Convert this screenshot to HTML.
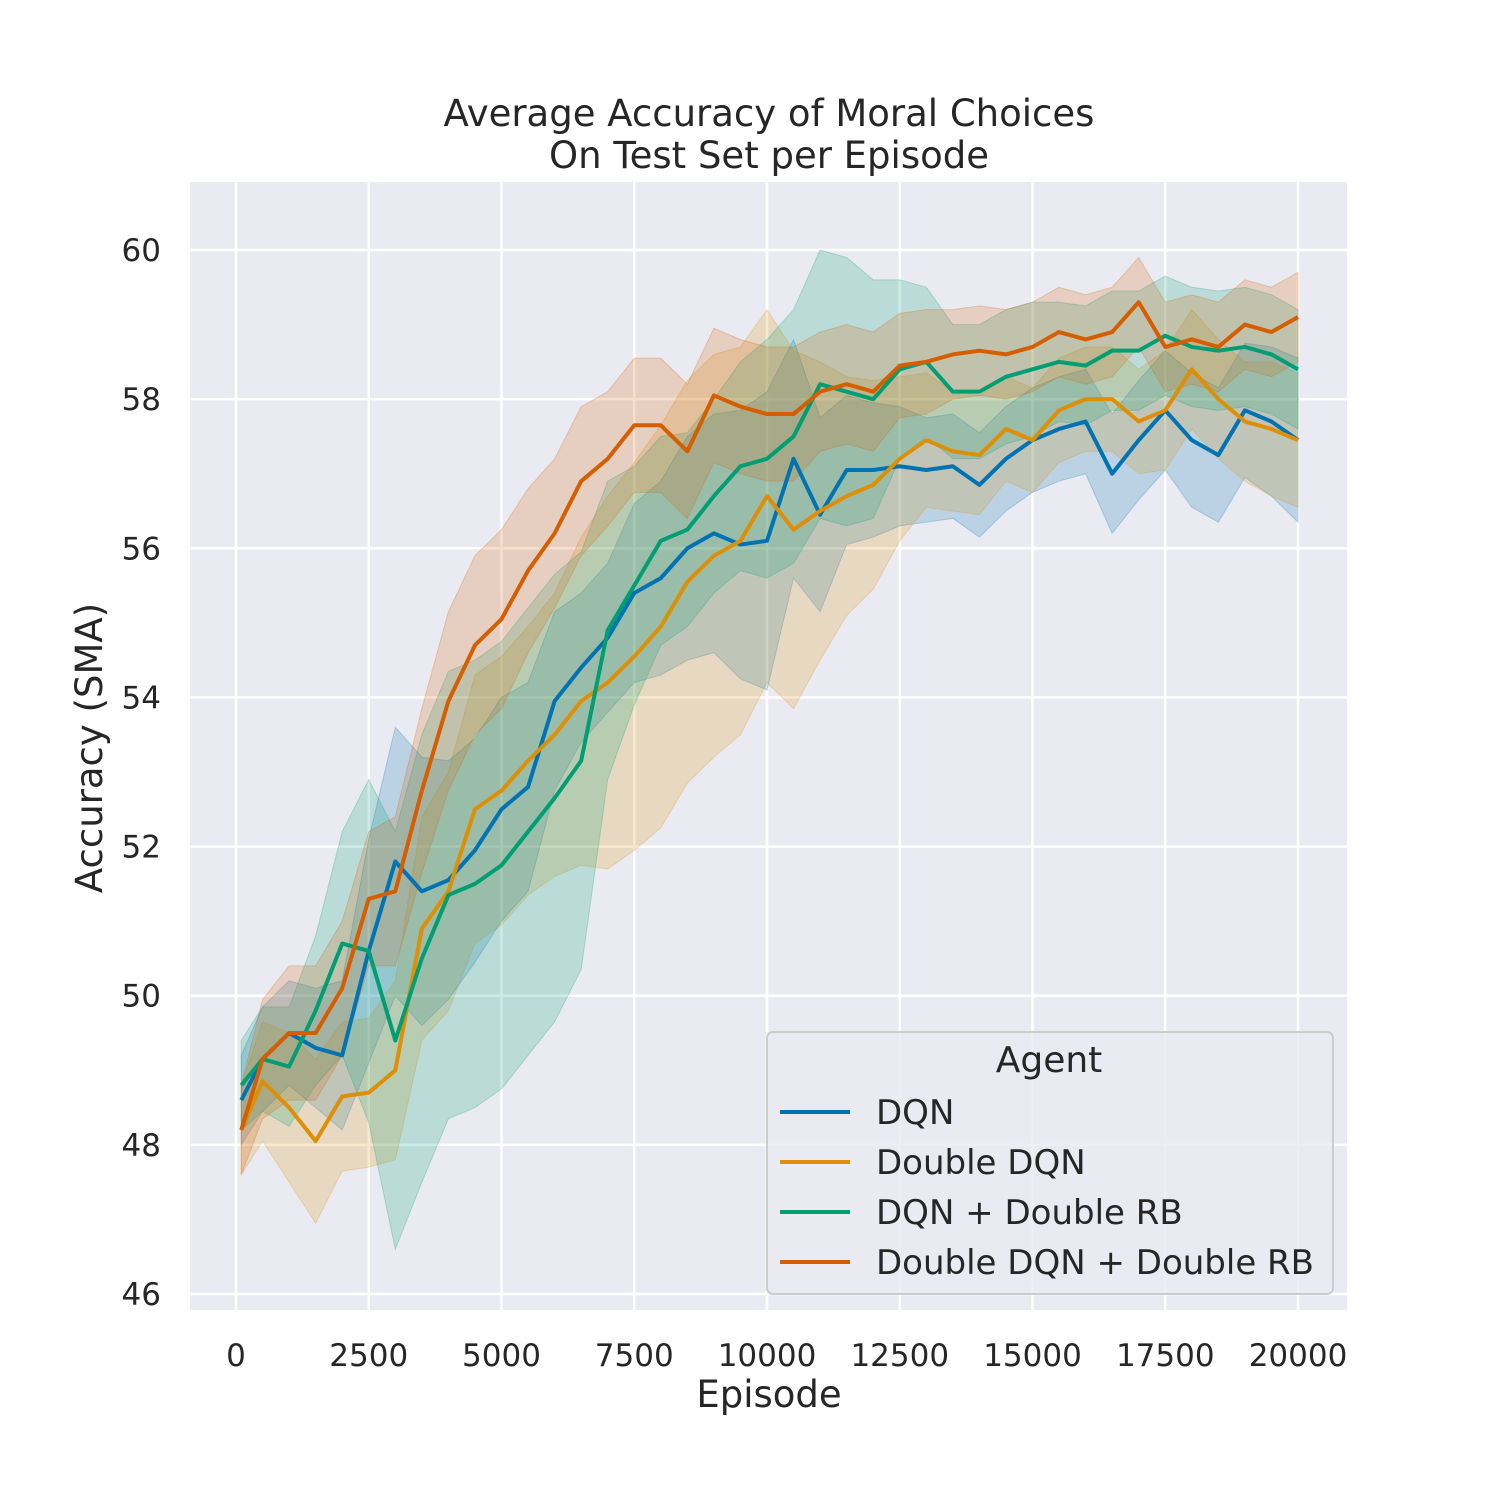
<!DOCTYPE html>
<html><head><meta charset="utf-8"><style>
html,body{margin:0;padding:0;background:#fff;}
svg{display:block;font-family:"DejaVu Sans","Liberation Sans",sans-serif;}
</style></head><body>
<svg id="chart" width="1500" height="1500" viewBox="0 0 1500 1500" xmlns="http://www.w3.org/2000/svg">
<rect x="190" y="182" width="1157" height="1128" fill="#eaeaf2"/>
<g id="grid"></g>
<g id="bands"></g>
<g id="lines"></g>
<g id="ticks" font-size="31" fill="#262626"></g>
<text x="769" y="126" text-anchor="middle" font-size="37" fill="#262626">Average Accuracy of Moral Choices</text>
<text x="769" y="168" text-anchor="middle" font-size="37" fill="#262626">On Test Set per Episode</text>
<text x="769" y="1407" text-anchor="middle" font-size="37" fill="#262626">Episode</text>
<text transform="translate(102,748) rotate(-90)" text-anchor="middle" font-size="37" fill="#262626">Accuracy (SMA)</text>
<g>
<rect x="767" y="1032" width="566" height="262" rx="6" fill="#eaeaf2" fill-opacity="0.8" stroke="#cccccc" stroke-width="2"/>
<text x="1049" y="1072" text-anchor="middle" font-size="36" fill="#262626">Agent</text>
<g id="legend-entries"></g>
</g>
</svg>
<script>
const episodes=[100,500,1000,1500,2000,2500,3000,3500,4000,4500,5000,5500,6000,6500,7000,7500,8000,8500,9000,9500,10000,10500,11000,11500,12000,12500,13000,13500,14000,14500,15000,15500,16000,16500,17000,17500,18000,18500,19000,19500,20000];
const seriesNames=["DQN","Double DQN","DQN + Double RB","Double DQN + Double RB"];
const dqn=[48.6,49.15,49.5,49.3,49.2,50.6,51.8,51.4,51.55,51.95,52.5,52.8,53.95,54.4,54.8,55.4,55.6,56.0,56.2,56.05,56.1,57.2,56.45,57.05,57.05,57.1,57.05,57.1,56.85,57.2,57.45,57.6,57.7,57.0,57.45,57.85,57.45,57.25,57.85,57.7,57.45];
const doubleDqn=[48.2,48.85,48.5,48.05,48.65,48.7,49.0,50.9,51.4,52.5,52.75,53.15,53.5,53.95,54.2,54.55,54.95,55.55,55.9,56.1,56.7,56.25,56.5,56.7,56.85,57.2,57.45,57.3,57.25,57.6,57.45,57.85,58.0,58.0,57.7,57.85,58.4,58.0,57.7,57.6,57.45];
const dqnDoubleRb=[48.8,49.15,49.05,49.8,50.7,50.6,49.4,50.5,51.35,51.5,51.75,52.2,52.65,53.15,54.9,55.5,56.1,56.25,56.7,57.1,57.2,57.5,58.2,58.1,58.0,58.4,58.5,58.1,58.1,58.3,58.4,58.5,58.45,58.65,58.65,58.85,58.7,58.65,58.7,58.6,58.4];
const doubleDqnDoubleRb=[48.2,49.15,49.5,49.5,50.1,51.3,51.4,52.75,53.95,54.7,55.05,55.7,56.2,56.9,57.2,57.65,57.65,57.3,58.05,57.9,57.8,57.8,58.1,58.2,58.1,58.45,58.5,58.6,58.65,58.6,58.7,58.9,58.8,58.9,59.3,58.7,58.8,58.7,59.0,58.9,59.1];
const dqnSpread=[0.6,0.7,0.7,0.8,1.0,1.5,1.8,1.8,1.6,1.5,1.5,1.4,1.2,1.0,1.0,1.2,1.3,1.5,1.6,1.8,2.0,1.6,1.3,1.0,0.9,0.8,0.7,0.7,0.7,0.7,0.7,0.7,0.7,0.8,0.8,0.8,0.9,0.9,0.9,1.0,1.1];
const doubleDqnSpread=[0.6,0.8,1.0,1.1,1.0,1.0,1.2,1.5,1.6,1.8,1.8,1.8,1.9,2.2,2.5,2.6,2.7,2.7,2.7,2.6,2.5,2.4,2.0,1.6,1.4,1.1,0.9,0.8,0.8,0.7,0.7,0.7,0.7,0.7,0.7,0.8,0.8,0.8,0.8,0.9,0.9];
const dqnDoubleRbSpread=[0.6,0.7,0.8,1.0,1.5,2.3,2.8,3.0,3.0,3.0,3.0,3.0,3.0,2.8,2.0,1.6,1.4,1.3,1.3,1.4,1.6,1.7,1.8,1.8,1.6,1.2,1.0,0.9,0.9,0.9,0.9,0.8,0.8,0.8,0.8,0.8,0.8,0.8,0.8,0.8,0.8];
const doubleDqnDoubleRbSpread=[0.6,0.8,0.9,0.9,0.9,0.9,1.0,1.1,1.2,1.2,1.2,1.1,1.0,1.0,0.9,0.9,0.9,0.9,0.9,0.9,0.9,0.9,0.8,0.8,0.8,0.7,0.7,0.6,0.6,0.6,0.6,0.6,0.6,0.6,0.6,0.6,0.6,0.6,0.6,0.6,0.6];
const xTicks=[0,2500,5000,7500,10000,12500,15000,17500,20000];
const yTicks=[46,48,50,52,54,56,58,60];

const colors=["#0173b2","#de8f05","#029e73","#d55e00"];
const series=[dqn,doubleDqn,dqnDoubleRb,doubleDqnDoubleRb];
const spreads=[dqnSpread,doubleDqnSpread,dqnDoubleRbSpread,doubleDqnDoubleRbSpread];
const NS="http://www.w3.org/2000/svg";
function xScale(e){return 236+(e-0)*(1298-236)/20000;}
function yScale(v){return 250+(60-v)*(1294-250)/14;}
function mk(tag,attrs,parent){const el=document.createElementNS(NS,tag);for(const k in attrs)el.setAttribute(k,attrs[k]);parent.appendChild(el);return el;}
const grid=document.getElementById('grid'),ticks=document.getElementById('ticks');
xTicks.forEach(t=>{
  const l=mk('line',{x1:xScale(t),x2:xScale(t),y1:182,y2:1310,stroke:'#fff','stroke-width':2.5},grid);
  
  
  const tx=mk('text',{x:xScale(t),y:1366,'text-anchor':'middle'},ticks);
  tx.textContent=t;
  
  
});
yTicks.forEach(t=>{
  const l=mk('line',{x1:190,x2:1347,y1:yScale(t),y2:yScale(t),stroke:'#fff','stroke-width':2.5},grid);
  
  
  const tx=mk('text',{x:161,y:yScale(t)+11,'text-anchor':'end'},ticks);
  tx.textContent=t;
  
  
});
const bands=document.getElementById('bands'),lines=document.getElementById('lines');
series.forEach((s,i)=>{
  const up=episodes.map((e,j)=>xScale(e)+','+yScale(s[j]+spreads[i][j]));
  const lo=episodes.map((e,j)=>xScale(e)+','+yScale(s[j]-spreads[i][j])).reverse();
  const b=mk('polygon',{points:up.concat(lo).join(' '),fill:colors[i],'fill-opacity':0.2,stroke:colors[i],'stroke-opacity':0.25},bands);
  
  
});
series.forEach((s,i)=>{
  const p=mk('polyline',{points:episodes.map((e,j)=>xScale(e)+','+yScale(s[j])).join(' '),fill:'none',stroke:colors[i],'stroke-width':4,'stroke-linejoin':'round'},lines);
  
  
});
const le=document.getElementById('legend-entries');
seriesNames.forEach((n,i)=>{
  const y=1112+i*50;
  const g=mk('g',{},le);
  
  
  mk('line',{x1:780,x2:850,y1:y,y2:y,stroke:colors[i],'stroke-width':4},g);
  const t=mk('text',{x:876,y:y+12,'font-size':34,fill:'#262626'},g);
  t.textContent=n;
});
</script>
</body></html>
